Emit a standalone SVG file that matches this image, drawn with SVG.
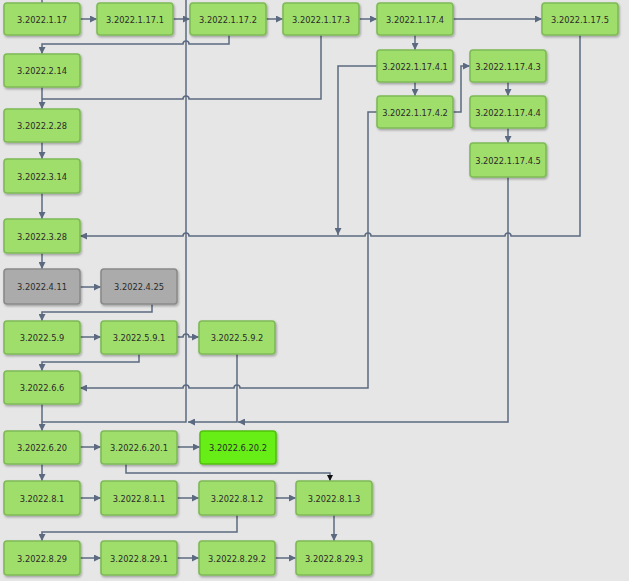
<svg xmlns="http://www.w3.org/2000/svg" width="629" height="581" viewBox="0 0 629 581">
<style>
.n rect{fill:#a0de6c;stroke:#7eba56;stroke-width:1.6;filter:url(#sh)}
.n.g rect{fill:#ababab;stroke:#8a8a8a}
.n.b rect{fill:#66ee14;stroke:#52c010}
.n text{font-family:"DejaVu Sans Condensed","DejaVu Sans",sans-serif;font-stretch:condensed;font-size:9.2px;fill:#2a2a2a;text-anchor:middle;dominant-baseline:central}
#edges path{fill:none;stroke:#5b6a80;stroke-width:1.5}
</style>
<defs>
<filter id="sh" x="-10%" y="-20%" width="130%" height="150%"><feDropShadow dx="1" dy="1.5" stdDeviation="1" flood-color="#000" flood-opacity="0.3"/></filter>
<marker id="a" viewBox="0 0 10 10" refX="10" refY="5" markerWidth="8" markerHeight="7" markerUnits="userSpaceOnUse" orient="auto"><path d="M0,0L10,5L0,10z" fill="#5b6a80"/></marker>
<marker id="k" viewBox="0 0 10 10" refX="10" refY="5" markerWidth="6" markerHeight="6" markerUnits="userSpaceOnUse" orient="auto"><path d="M0,0L10,5L0,10z" fill="#111"/></marker>
</defs>
<rect width="629" height="581" fill="#e6e6e6"/>
<g id="edges">
<path d="M42,0V3"/>
<path d="M186,0V422H42V431" marker-end="url(#a)"/>
<path d="M80,19H97" marker-end="url(#a)"/>
<path d="M173,19H190" marker-end="url(#a)"/>
<path d="M266,19H283" marker-end="url(#a)"/>
<path d="M359,19H377" marker-end="url(#a)"/>
<path d="M453,19H542" marker-end="url(#a)"/>
<path d="M229,35V44H189a3,3 0 0 0 -6,0H42V54" marker-end="url(#a)"/>
<path d="M321,35V99H189a3,3 0 0 0 -6,0H42" />
<path d="M42,87V109" marker-end="url(#a)"/>
<path d="M42,142V159" marker-end="url(#a)"/>
<path d="M42,193V219" marker-end="url(#a)"/>
<path d="M42,253V269" marker-end="url(#a)"/>
<path d="M415,35V50" marker-end="url(#a)"/>
<path d="M415,82V96" marker-end="url(#a)"/>
<path d="M453,112H461V66H470" marker-end="url(#a)"/>
<path d="M508,82V96" marker-end="url(#a)"/>
<path d="M508,128V143" marker-end="url(#a)"/>
<path d="M377,66H338V235" marker-end="url(#a)"/>
<path d="M580,35V236H511a3,3 0 0 0 -6,0H371a3,3 0 0 0 -6,0H189a3,3 0 0 0 -6,0H80" marker-end="url(#a)"/>
<path d="M377,112H368V388H240a3,3 0 0 0 -6,0H189a3,3 0 0 0 -6,0H80" marker-end="url(#a)"/>
<path d="M80,287H101" marker-end="url(#a)"/>
<path d="M152,304V312H42V321" marker-end="url(#a)"/>
<path d="M80,337H101" marker-end="url(#a)"/>
<path d="M177,337H183a3,3 0 0 1 6,0H199" marker-end="url(#a)"/>
<path d="M139,354V362H42V371" marker-end="url(#a)"/>
<path d="M508,177V422H238" marker-end="url(#a)"/>
<path d="M237,354V422H188" marker-end="url(#a)"/>
<path d="M42,404V422"/>
<path d="M80,447H101" marker-end="url(#a)"/>
<path d="M177,447H200" marker-end="url(#a)"/>
<path d="M42,464V481" marker-end="url(#a)"/>
<path d="M126,464V473H330V481" marker-end="url(#k)"/>
<path d="M80,498H101" marker-end="url(#a)"/>
<path d="M177,498H199" marker-end="url(#a)"/>
<path d="M275,498H296" marker-end="url(#a)"/>
<path d="M237,515V532H42V541" marker-end="url(#a)"/>
<path d="M334,515V541" marker-end="url(#a)"/>
<path d="M80,558H101" marker-end="url(#a)"/>
<path d="M177,558H199" marker-end="url(#a)"/>
<path d="M275,558H296" marker-end="url(#a)"/>
</g>
<g id="n1" class="n"><rect x="4" y="3" width="76" height="32" rx="3"/><text x="42" y="19">3.2022.1.17</text></g>
<g id="n2" class="n"><rect x="97" y="3" width="76" height="32" rx="3"/><text x="135" y="19">3.2022.1.17.1</text></g>
<g id="n3" class="n"><rect x="190" y="3" width="76" height="32" rx="3"/><text x="228" y="19">3.2022.1.17.2</text></g>
<g id="n4" class="n"><rect x="283" y="3" width="76" height="32" rx="3"/><text x="321" y="19">3.2022.1.17.3</text></g>
<g id="n5" class="n"><rect x="377" y="3" width="76" height="32" rx="3"/><text x="415" y="19">3.2022.1.17.4</text></g>
<g id="n6" class="n"><rect x="542" y="3" width="76" height="32" rx="3"/><text x="580" y="19">3.2022.1.17.5</text></g>
<g id="n7" class="n"><rect x="4" y="54" width="76" height="33" rx="3"/><text x="42" y="70.5">3.2022.2.14</text></g>
<g id="n8" class="n"><rect x="377" y="50" width="76" height="32" rx="3"/><text x="415" y="66">3.2022.1.17.4.1</text></g>
<g id="n9" class="n"><rect x="470" y="50" width="76" height="32" rx="3"/><text x="508" y="66">3.2022.1.17.4.3</text></g>
<g id="n10" class="n"><rect x="377" y="96" width="76" height="32" rx="3"/><text x="415" y="112">3.2022.1.17.4.2</text></g>
<g id="n11" class="n"><rect x="470" y="96" width="76" height="32" rx="3"/><text x="508" y="112">3.2022.1.17.4.4</text></g>
<g id="n12" class="n"><rect x="4" y="109" width="76" height="33" rx="3"/><text x="42" y="125.5">3.2022.2.28</text></g>
<g id="n13" class="n"><rect x="470" y="143" width="76" height="34" rx="3"/><text x="508" y="160">3.2022.1.17.4.5</text></g>
<g id="n14" class="n"><rect x="4" y="159" width="76" height="34" rx="3"/><text x="42" y="176">3.2022.3.14</text></g>
<g id="n15" class="n"><rect x="4" y="219" width="76" height="34" rx="3"/><text x="42" y="236">3.2022.3.28</text></g>
<g id="n16" class="n g"><rect x="4" y="269" width="76" height="35" rx="3"/><text x="42" y="286.5">3.2022.4.11</text></g>
<g id="n17" class="n g"><rect x="101" y="269" width="76" height="35" rx="3"/><text x="139" y="286.5">3.2022.4.25</text></g>
<g id="n18" class="n"><rect x="4" y="321" width="76" height="33" rx="3"/><text x="42" y="337.5">3.2022.5.9</text></g>
<g id="n19" class="n"><rect x="101" y="321" width="76" height="33" rx="3"/><text x="139" y="337.5">3.2022.5.9.1</text></g>
<g id="n20" class="n"><rect x="199" y="321" width="76" height="33" rx="3"/><text x="237" y="337.5">3.2022.5.9.2</text></g>
<g id="n21" class="n"><rect x="4" y="371" width="76" height="33" rx="3"/><text x="42" y="387.5">3.2022.6.6</text></g>
<g id="n22" class="n"><rect x="4" y="431" width="76" height="33" rx="3"/><text x="42" y="447.5">3.2022.6.20</text></g>
<g id="n23" class="n"><rect x="101" y="431" width="76" height="33" rx="3"/><text x="139" y="447.5">3.2022.6.20.1</text></g>
<g id="n24" class="n b"><rect x="200" y="431" width="76" height="33" rx="3"/><text x="238" y="447.5">3.2022.6.20.2</text></g>
<g id="n25" class="n"><rect x="4" y="481" width="76" height="34" rx="3"/><text x="42" y="498">3.2022.8.1</text></g>
<g id="n26" class="n"><rect x="101" y="481" width="76" height="34" rx="3"/><text x="139" y="498">3.2022.8.1.1</text></g>
<g id="n27" class="n"><rect x="199" y="481" width="76" height="34" rx="3"/><text x="237" y="498">3.2022.8.1.2</text></g>
<g id="n28" class="n"><rect x="296" y="481" width="76" height="34" rx="3"/><text x="334" y="498">3.2022.8.1.3</text></g>
<g id="n29" class="n"><rect x="4" y="541" width="76" height="34" rx="3"/><text x="42" y="558">3.2022.8.29</text></g>
<g id="n30" class="n"><rect x="101" y="541" width="76" height="34" rx="3"/><text x="139" y="558">3.2022.8.29.1</text></g>
<g id="n31" class="n"><rect x="199" y="541" width="76" height="34" rx="3"/><text x="237" y="558">3.2022.8.29.2</text></g>
<g id="n32" class="n"><rect x="296" y="541" width="76" height="34" rx="3"/><text x="334" y="558">3.2022.8.29.3</text></g>
</svg>
